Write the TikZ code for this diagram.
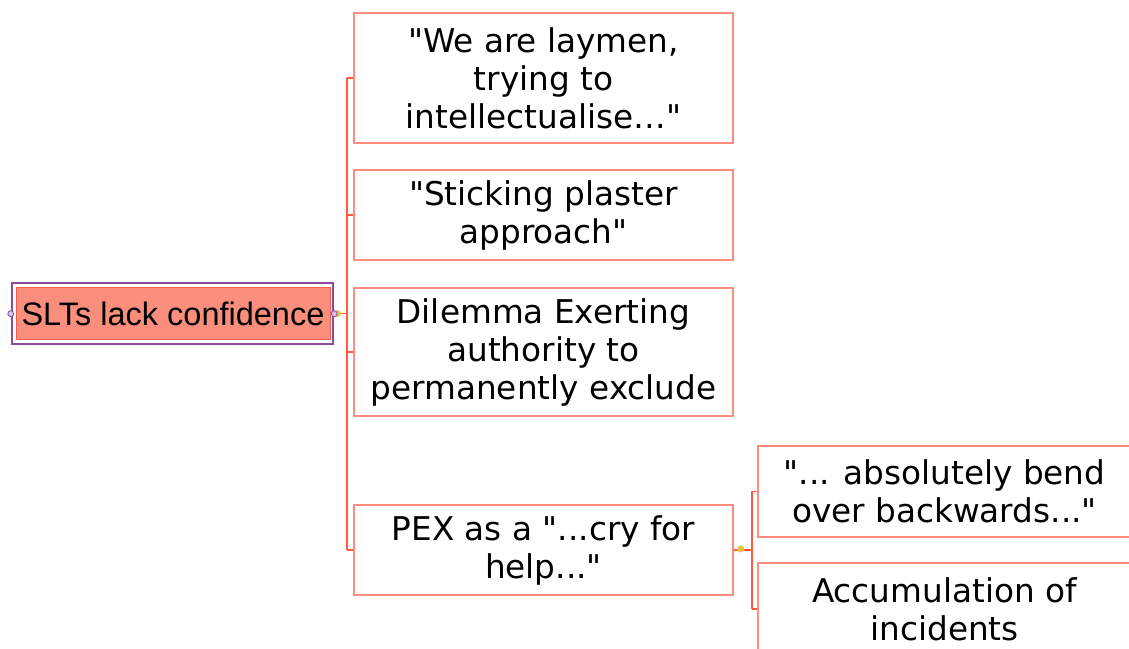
\documentclass[tikz,border=0pt]{standalone}
\usepackage{fontspec}
\setmainfont{DejaVu Sans}[Ligatures=TeXOff]
\newfontfamily\rootfont{Liberation Sans}
\definecolor{boxline}{HTML}{FF8C7C}
\definecolor{linkred}{HTML}{FF5A3C}
\definecolor{rootfill}{HTML}{FA8E7C}
\definecolor{rootedge}{HTML}{F2604C}
\definecolor{rootframe}{HTML}{8E4A9E}
\definecolor{knob}{HTML}{D9C3E3}
\definecolor{hub}{HTML}{E9C24A}
\tikzset{
  topic/.style={draw=boxline, line width=1.4pt, fill=white, align=center,
    minimum width=379pt, inner sep=0pt,
    font=\fontsize{32.7}{38}\selectfont},
  subtopic/.style={topic, minimum width=373pt},
  link/.style={draw=linkred, line width=1.6pt},
  knobdot/.style={circle, draw=rootframe, fill=knob, line width=0.8pt, minimum size=6pt, inner sep=0pt},
  hubdot/.style={circle, fill=hub, minimum size=7pt, inner sep=0pt},
}
\begin{document}
\begin{tikzpicture}[x=1pt,y=1pt]
\useasboundingbox (0,0) rectangle (1129,648);
\clip (0,0) rectangle (1129,648);

% central topic: purple frame around a salmon box
\node[draw=rootframe, line width=1.8pt, minimum width=321.6pt, minimum height=60.7pt, inner sep=0pt]
  (rootframe) at (172.5,334.3) {};
\node[draw=rootedge, fill=rootfill, line width=1pt, minimum width=314pt, minimum height=51.6pt, inner sep=0pt,
  font=\rootfont\fontsize{32.5}{37}\selectfont] (root) at (173,334.5) {SLTs lack confidence};

% first-level topics
\node[topic, minimum height=130pt] (q1) at (543.5,570) {"We are laymen,\\trying to\\intellectualise…"};
\node[topic, minimum height=90pt] (q2) at (543.5,433) {"Sticking plaster\\approach"};
\node[topic, minimum height=128pt] (q3) at (543.5,296) {Dilemma Exerting\\authority to\\permanently exclude};
\node[topic, minimum height=90pt] (q4) at (543.5,98) {PEX as a "...cry for\\help..."};

% second-level topics under PEX
\node[subtopic, minimum height=91pt] (s1) at (944.5,156.5) {"... absolutely bend\\over backwards..."};
\node[subtopic, minimum height=92pt] (s2) at (944.5,39) {Accumulation of\\incidents};

% trunk from the central topic
\coordinate (j1) at (347,334.3);
\draw[link] (rootframe.east) -- (j1);
\draw[link] (j1 |- q1.west) -- (j1 |- q4.west);
\foreach \b in {q1,q2,q3,q4} \draw[link] (j1 |- \b.west) -- (\b.west);

% trunk from the PEX topic
\coordinate (j2) at (751.7,98);
\draw[link] (q4.east) -- (j2);
\draw[link] (j2 |- s1.west) -- (j2 |- s2.west);
\foreach \b in {s1,s2} \draw[link] (j2 |- \b.west) -- (\b.west);

% handles
\node[hubdot] (h1) at (337.5,334.5) {};
\node[knobdot] (k1) at (rootframe.west) {};
\node[knobdot] (k2) at (rootframe.east) {};
\node[hubdot] (h2) at (740.7,99) {};
\end{tikzpicture}
\end{document}
